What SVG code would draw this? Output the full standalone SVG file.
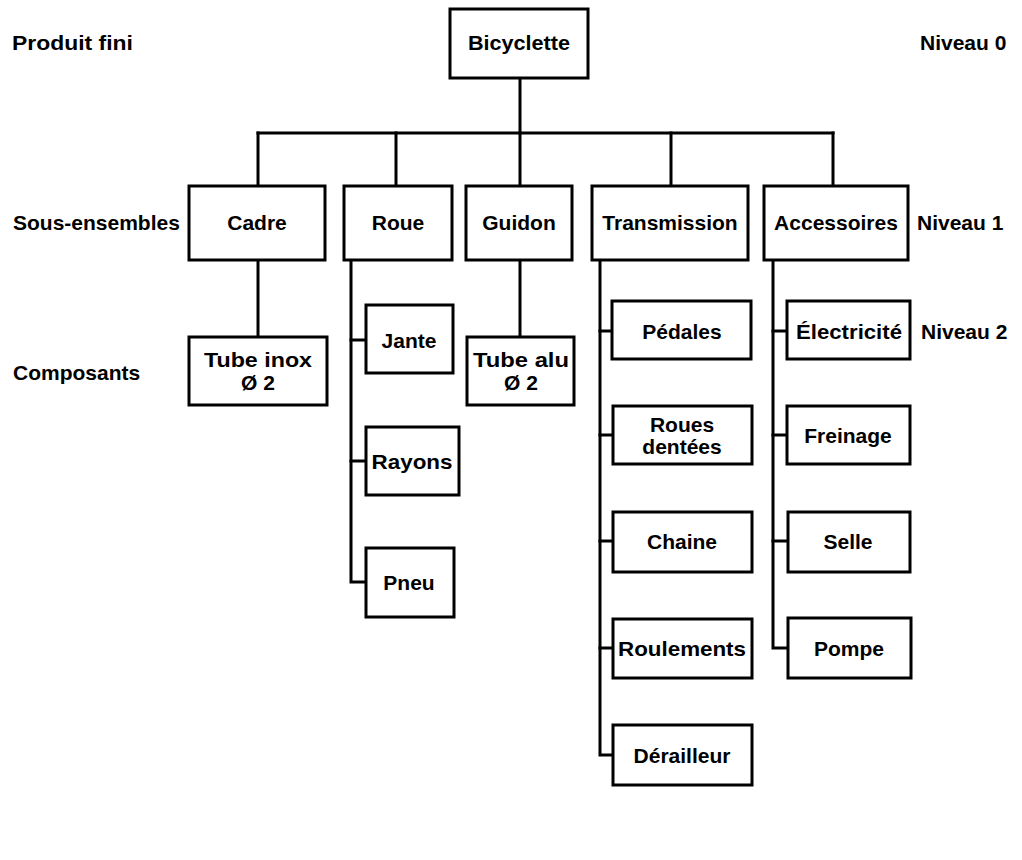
<svg xmlns="http://www.w3.org/2000/svg" width="1022" height="860" viewBox="0 0 1022 860">
<style>
  .bg { fill: #ffffff; }
  .box { fill: #ffffff; stroke: #000000; stroke-width: 3; }
  .ln { fill: none; stroke: #000000; stroke-width: 3; stroke-linecap: square; stroke-linejoin: miter; }
  .t { font-family: "Liberation Sans", Arial, sans-serif; font-weight: bold; font-size: 21px; fill: #000000; }
  .c { text-anchor: middle; }
</style>
<rect class="bg" x="0" y="0" width="1022" height="860"/>

<g id="level-labels">
  <text class="t" x="12" y="50" textLength="121" lengthAdjust="spacingAndGlyphs">Produit fini</text>
  <text class="t" x="920" y="50">Niveau 0</text>
  <text class="t" x="13" y="230">Sous-ensembles</text>
  <text class="t" x="917" y="230">Niveau 1</text>
  <text class="t" x="13" y="380">Composants</text>
  <text class="t" x="921" y="339">Niveau 2</text>
</g>

<g id="connectors">
  <path class="ln" d="M520 78 V133"/>
  <path class="ln" d="M258 133 H833"/>
  <path class="ln" d="M258 133 V186"/>
  <path class="ln" d="M396 133 V186"/>
  <path class="ln" d="M520 133 V186"/>
  <path class="ln" d="M671 133 V186"/>
  <path class="ln" d="M833 133 V186"/>
  <path class="ln" d="M258 260 V337"/>
  <path class="ln" d="M520 260 V337"/>
  <path class="ln" d="M351 260 V582 H366"/>
  <path class="ln" d="M351 340 H366"/>
  <path class="ln" d="M351 461 H366"/>
  <path class="ln" d="M600 260 V755 H613"/>
  <path class="ln" d="M600 331 H612"/>
  <path class="ln" d="M600 435 H613"/>
  <path class="ln" d="M600 541 H613"/>
  <path class="ln" d="M600 648 H613"/>
  <path class="ln" d="M773 260 V648 H787"/>
  <path class="ln" d="M773 331 H787"/>
  <path class="ln" d="M773 435 H787"/>
  <path class="ln" d="M773 541 H787"/>
</g>

<g id="bicyclette"><rect class="box" x="450" y="9" width="138" height="69"/><text class="t c" x="519" y="50" textLength="102" lengthAdjust="spacingAndGlyphs">Bicyclette</text></g>

<g id="cadre"><rect class="box" x="189" y="186" width="136" height="74"/><text class="t c" x="257" y="230">Cadre</text></g>
<g id="roue"><rect class="box" x="344" y="186" width="108" height="74"/><text class="t c" x="398" y="230">Roue</text></g>
<g id="guidon"><rect class="box" x="466" y="186" width="106" height="74"/><text class="t c" x="519" y="230">Guidon</text></g>
<g id="transmission"><rect class="box" x="592" y="186" width="156" height="74"/><text class="t c" x="670" y="230">Transmission</text></g>
<g id="accessoires"><rect class="box" x="764" y="186" width="144" height="74"/><text class="t c" x="836" y="230">Accessoires</text></g>

<g id="tube-inox"><rect class="box" x="189" y="337" width="138" height="68"/><text class="t c" x="258" y="367" textLength="108" lengthAdjust="spacingAndGlyphs">Tube inox</text><text class="t c" x="258" y="390">Ø 2</text></g>
<g id="tube-alu"><rect class="box" x="467" y="337" width="107" height="68"/><text class="t c" x="521" y="367" textLength="96" lengthAdjust="spacingAndGlyphs">Tube alu</text><text class="t c" x="521" y="390">Ø 2</text></g>

<g id="jante"><rect class="box" x="366" y="305" width="87" height="68"/><text class="t c" x="409" y="348">Jante</text></g>
<g id="rayons"><rect class="box" x="366" y="427" width="93" height="68"/><text class="t c" x="412" y="469" textLength="81" lengthAdjust="spacingAndGlyphs">Rayons</text></g>
<g id="pneu"><rect class="box" x="366" y="548" width="88" height="69"/><text class="t c" x="409" y="590">Pneu</text></g>

<g id="pedales"><rect class="box" x="612" y="301" width="139" height="58"/><text class="t c" x="682" y="339">Pédales</text></g>
<g id="roues-dentees"><rect class="box" x="613" y="406" width="139" height="58"/><text class="t c" x="682" y="432">Roues</text><text class="t c" x="682" y="454">dentées</text></g>
<g id="chaine"><rect class="box" x="613" y="512" width="139" height="60"/><text class="t c" x="682" y="549">Chaine</text></g>
<g id="roulements"><rect class="box" x="613" y="619" width="139" height="59"/><text class="t c" x="682" y="656" textLength="128" lengthAdjust="spacingAndGlyphs">Roulements</text></g>
<g id="derailleur"><rect class="box" x="613" y="725" width="139" height="60"/><text class="t c" x="682" y="763">Dérailleur</text></g>

<g id="electricite"><rect class="box" x="787" y="301" width="123" height="58"/><text class="t c" x="849" y="339" textLength="106" lengthAdjust="spacingAndGlyphs">Électricité</text></g>
<g id="freinage"><rect class="box" x="787" y="406" width="123" height="58"/><text class="t c" x="848" y="443">Freinage</text></g>
<g id="selle"><rect class="box" x="788" y="512" width="122" height="60"/><text class="t c" x="848" y="549">Selle</text></g>
<g id="pompe"><rect class="box" x="788" y="618" width="123" height="60"/><text class="t c" x="849" y="656">Pompe</text></g>
</svg>
